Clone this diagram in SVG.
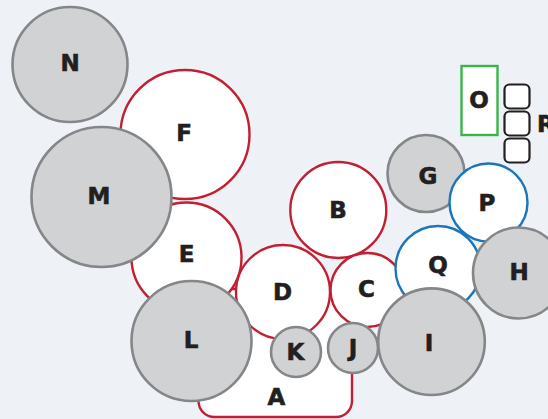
<svg xmlns="http://www.w3.org/2000/svg" width="548" height="419" viewBox="0 0 548 419">
<style>
.bg{fill:#eef2f6}
.g{fill:#d1d2d4;stroke:#848688;stroke-width:2.6}
.r{fill:#fff;stroke:#c21f32;stroke-width:2.4}
.b{fill:#fff;stroke:#1b75bc;stroke-width:2.4}
.gr{fill:#fff;stroke:#3ab54a;stroke-width:2.4}
.k{fill:#fff;stroke:#231f20;stroke-width:2.2}
text{font-family:"DejaVu Sans","Liberation Sans",sans-serif;font-weight:bold;font-size:23px;fill:#231f20;stroke:#231f20;stroke-width:0.6;text-anchor:middle}
</style>
<rect class="bg" x="0" y="0" width="548" height="419"/>
<g id="connectors"/>
<g id="A"><rect class="r" x="198.5" y="289" width="153.5" height="128" rx="16"/><text x="276.5" y="405">A</text></g>
<g id="F"><circle class="r" cx="185" cy="134.5" r="64.5"/><text x="184" y="141">F</text></g>
<g id="E"><circle class="r" cx="186.5" cy="257.5" r="55"/><text x="186.5" y="262">E</text></g>
<g id="B"><circle class="r" cx="338.3" cy="210" r="48"/><text x="338" y="218">B</text></g>
<g id="D"><circle class="r" cx="283" cy="292" r="47"/><text x="282.5" y="300">D</text></g>
<g id="C"><circle class="r" cx="367.5" cy="290" r="37"/><text x="366.5" y="297">C</text></g>
<g id="G"><circle class="g" cx="426" cy="173.5" r="38.5"/><text x="428" y="184">G</text></g>
<g id="Q"><circle class="b" cx="438" cy="268.5" r="42.5"/><text x="438" y="273">Q</text></g>
<g id="P"><circle class="b" cx="488.5" cy="202.5" r="39"/><text x="487" y="211">P</text></g>
<g id="N"><circle class="g" cx="70" cy="64.5" r="57.5"/><text x="70" y="71">N</text></g>
<g id="M"><circle class="g" cx="101.5" cy="197" r="70"/><text x="99" y="204">M</text></g>
<g id="L"><circle class="g" cx="191.5" cy="341" r="60"/><text x="191" y="348">L</text></g>
<g id="K"><circle class="g" cx="296" cy="352" r="25"/><text x="295.5" y="360">K</text></g>
<g id="J"><circle class="g" cx="353" cy="348" r="25"/><text x="353" y="356">J</text></g>
<g id="I"><circle class="g" cx="431.5" cy="341.7" r="53.3"/><text x="429" y="350.5">I</text></g>
<g id="H"><circle class="g" cx="518.5" cy="273" r="45.5"/><text x="519" y="280">H</text></g>
<g id="O"><rect class="gr" x="461.5" y="66" width="36" height="69"/><text x="479" y="108">O</text></g>
<g id="R"><rect class="k" x="504.5" y="84.5" width="25" height="24" rx="5"/><rect class="k" x="504.5" y="111.5" width="25" height="24" rx="5"/><rect class="k" x="504.5" y="138.5" width="25" height="24" rx="5"/><text x="537" y="132" style="text-anchor:start">R</text></g>
</svg>
